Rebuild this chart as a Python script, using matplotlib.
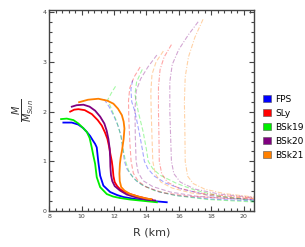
import matplotlib
matplotlib.use("Agg")
import matplotlib.pyplot as plt
from matplotlib.patches import Patch
from matplotlib.ticker import MultipleLocator

# solid GR curves (R km, M/Msun)
fps_r = [8.88, 9.4, 9.8, 10.1, 10.33, 10.53, 10.7, 10.84, 10.94, 11.04, 11.15, 11.35, 11.77, 12.2, 12.59, 13.3, 14.03, 15.26]
fps_m = [1.78, 1.78, 1.74, 1.67, 1.59, 1.51, 1.42, 1.35, 1.28, 0.98, 0.71, 0.51, 0.38, 0.32, 0.28, 0.24, 0.21, 0.175]
sly_r = [9.3, 9.55, 9.81, 10.2, 10.64, 11.0, 11.25, 11.45, 11.6, 11.7, 11.78, 11.87, 11.93, 11.97, 12.05, 12.2, 12.4, 12.7, 13.0, 13.5, 14.0, 14.34]
sly_m = [2.0, 2.04, 2.05, 2.03, 1.95, 1.83, 1.72, 1.58, 1.45, 1.3, 1.15, 1.0, 0.85, 0.7, 0.58, 0.5, 0.43, 0.38, 0.34, 0.29, 0.25, 0.23]
bsk19_r = [8.74, 9.09, 9.5, 9.81, 10.1, 10.33, 10.5, 10.63, 10.74, 10.84, 10.94, 11.15, 11.56, 11.95, 12.38, 13.0, 13.6, 14.65]
bsk19_m = [1.85, 1.86, 1.83, 1.76, 1.67, 1.59, 1.47, 1.28, 1.1, 0.95, 0.68, 0.48, 0.34, 0.29, 0.26, 0.23, 0.21, 0.175]
bsk20_r = [9.4, 9.7, 10.12, 10.5, 10.84, 11.15, 11.41, 11.55, 11.66, 11.74, 11.77, 11.78, 11.82, 11.9, 12.05, 12.38, 12.8, 13.4, 14.0, 14.54]
bsk20_m = [2.1, 2.13, 2.14, 2.1, 2.02, 1.9, 1.76, 1.62, 1.45, 1.25, 1.05, 0.9, 0.72, 0.6, 0.5, 0.41, 0.33, 0.27, 0.23, 0.21]
bsk21_r = [9.85, 10.4, 11.04, 11.6, 11.97, 12.25, 12.49, 12.6, 12.65, 12.6, 12.5, 12.42, 12.37, 12.34, 12.36, 12.45, 12.65, 13.0, 13.5, 14.0, 14.3]
bsk21_m = [2.19, 2.24, 2.26, 2.22, 2.16, 2.06, 1.93, 1.8, 1.66, 1.45, 1.22, 1.08, 0.95, 0.75, 0.6, 0.48, 0.41, 0.34, 0.29, 0.25, 0.235]

# faint modified-gravity curves
fps_a_r = [11.4, 11.7, 11.97, 12.25, 12.45, 12.55, 12.65, 12.8, 13.0, 13.4, 13.82, 14.8, 15.88, 17.94, 20.65]
fps_a_m = [2.25, 2.1, 1.93, 1.72, 1.5, 1.25, 1.0, 0.85, 0.75, 0.6, 0.51, 0.38, 0.31, 0.24, 0.2]
bsk19_a_r = [12.1, 11.85, 11.62, 11.85, 12.15, 12.4, 12.58, 12.72, 12.9, 13.2, 13.7, 14.5, 15.8, 17.8, 20.65]
bsk19_a_m = [2.51, 2.38, 2.24, 2.05, 1.82, 1.55, 1.22, 1.0, 0.82, 0.66, 0.53, 0.41, 0.31, 0.23, 0.18]
sly_a_r = [13.62, 13.25, 12.98, 12.9, 12.92, 12.98, 13.06, 13.2, 13.5, 14.0, 15.0, 16.5, 18.5, 20.65]
sly_a_m = [2.9, 2.7, 2.48, 2.22, 1.85, 1.4, 1.0, 0.76, 0.6, 0.48, 0.37, 0.3, 0.26, 0.24]
bsk20_a_r = [14.65, 14.1, 13.65, 13.38, 13.3, 13.32, 13.37, 13.5, 13.8, 14.4, 15.5, 17.0, 19.0, 20.65]
bsk20_a_m = [3.14, 2.9, 2.66, 2.42, 2.05, 1.5, 1.0, 0.77, 0.61, 0.49, 0.38, 0.3, 0.25, 0.23]
fps_b_r = [13.15, 13.05, 13.1, 13.3, 13.55, 13.75, 13.88, 14.1, 14.5, 15.2, 16.2, 17.9, 20.65]
fps_b_m = [2.63, 2.45, 2.2, 2.0, 1.6, 1.25, 1.0, 0.85, 0.7, 0.56, 0.44, 0.31, 0.22]
bsk19_b_r = [13.75, 13.4, 13.3, 13.5, 13.8, 14.0, 14.12, 14.4, 14.85, 15.9, 17.0, 18.5, 20.65]
bsk19_b_m = [2.85, 2.6, 2.35, 2.0, 1.6, 1.25, 1.0, 0.85, 0.72, 0.55, 0.42, 0.3, 0.2]
bsk21_a_r = [15.05, 14.6, 14.35, 14.28, 14.3, 14.35, 14.4, 14.55, 14.9, 15.6, 16.8, 18.5, 20.65]
bsk21_a_m = [3.22, 3.0, 2.75, 2.4, 2.0, 1.5, 1.0, 0.75, 0.58, 0.46, 0.36, 0.29, 0.25]
sly_b_r = [15.55, 15.1, 14.85, 14.75, 14.75, 14.78, 14.8, 14.95, 15.3, 16.0, 17.3, 19.0, 20.65]
sly_b_m = [3.35, 3.1, 2.85, 2.5, 2.0, 1.5, 1.0, 0.75, 0.58, 0.46, 0.36, 0.3, 0.26]
bsk20_b_r = [17.2, 16.6, 16.0, 15.6, 15.45, 15.45, 15.5, 15.55, 15.7, 16.1, 17.0, 18.5, 20.65]
bsk20_b_m = [3.81, 3.55, 3.25, 2.95, 2.6, 2.0, 1.5, 1.0, 0.75, 0.58, 0.44, 0.34, 0.27]
bsk21_b_r = [17.5, 17.0, 16.6, 16.4, 16.35, 16.38, 16.4, 16.55, 16.9, 17.6, 18.8, 20.65]
bsk21_b_m = [3.86, 3.5, 3.1, 2.7, 2.2, 1.6, 1.0, 0.7, 0.55, 0.44, 0.35, 0.28]

labels = ['FPS', 'SLy', 'BSk19', 'BSk20', 'BSk21']
colors = ['#0000ff', '#ff0000', '#00ee00', '#800080', '#ff8000']

fig = plt.figure(figsize=(3.05, 2.47), dpi=100)
ax = fig.add_axes([0.161, 0.146, 0.672, 0.814])

dash = (0, (4, 2))
dashdot = (0, (4, 1.5, 1, 1.5))
faint = [
    (fps_a_r, fps_a_m, colors[0], dash),
    (bsk19_a_r, bsk19_a_m, colors[2], dash),
    (sly_a_r, sly_a_m, colors[1], dash),
    (bsk20_a_r, bsk20_a_m, colors[3], dash),
    (fps_b_r, fps_b_m, colors[0], dash),
    (bsk19_b_r, bsk19_b_m, colors[2], dash),
    (bsk21_a_r, bsk21_a_m, colors[4], dash),
    (sly_b_r, sly_b_m, colors[1], dashdot),
    (bsk20_b_r, bsk20_b_m, colors[3], dashdot),
    (bsk21_b_r, bsk21_b_m, colors[4], dashdot),
]
for r, m, c, ls in faint:
    ax.plot(r, m, color=c, ls=ls, lw=0.8, alpha=0.35)

solid = [(fps_r, fps_m), (sly_r, sly_m), (bsk19_r, bsk19_m), (bsk20_r, bsk20_m), (bsk21_r, bsk21_m)]
for (r, m), c in zip(solid, colors):
    ax.plot(r, m, color=c, lw=1.3, solid_joinstyle='round')

ax.set_xlim(8, 20.65)
ax.set_ylim(0, 4.05)
ax.xaxis.set_major_locator(MultipleLocator(2))
ax.xaxis.set_minor_locator(MultipleLocator(0.4))
ax.yaxis.set_major_locator(MultipleLocator(1))
ax.yaxis.set_minor_locator(MultipleLocator(0.2))
ax.tick_params(which='both', direction='in', top=True, right=True, colors='#444444',
               labelsize=4.5, width=0.8, pad=2)
ax.tick_params(which='major', length=3.5)
ax.tick_params(which='minor', length=2)
for s in ax.spines.values():
    s.set_color('#444444')
    s.set_linewidth(1.0)

ax.set_xlabel('R (km)', fontsize=8, color='#333333', labelpad=6)
ax.set_ylabel(r'$\frac{M}{M_{Sun}}$', fontsize=10, color='#333333', labelpad=4)

handles = [Patch(facecolor=c, edgecolor='#555555', lw=0.4) for c in colors]
fig.legend(handles, labels, loc='upper left', bbox_to_anchor=(0.848, 0.635),
           frameon=False, fontsize=6.5, handlelength=0.9, handleheight=0.9,
           handletextpad=0.4, labelspacing=0.55, borderpad=0)

fig.savefig('out.png', dpi=100)
